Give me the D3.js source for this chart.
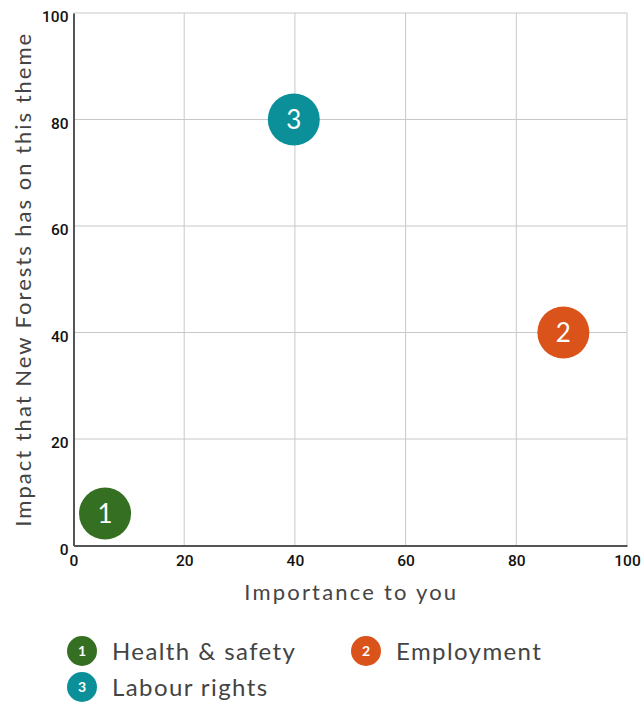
<!DOCTYPE html>
<html>
<head>
<meta charset="utf-8">
<script src="https://cdn.jsdelivr.net/npm/d3@7.8.5/dist/d3.min.js"></script>
<style>
  body { margin: 0; background: #fff; }
  svg { display: block; font-family: Lato, "Open Sans", sans-serif; }
</style>
</head>
<body>
<svg width="643" height="702"></svg>
<script>
// Themes plotted by importance (x) and impact (y)
const ids = [1, 2, 3];
const labels = ["Health & safety", "Employment", "Labour rights"];
const importance = [5.7, 88.5, 39.8];
const impact = [6, 40, 80];
const colors = ["#346f22", "#d9531a", "#0b9099"];
const ticks = [0, 20, 40, 60, 80, 100];

const svg = d3.select("svg");
const margin = { left: 73.5, right: 16, top: 13, bottom: 156.5 };
const width = 643, height = 702;

const x = d3.scaleLinear().domain([0, 100]).range([margin.left, width - margin.right]);
const y = d3.scaleLinear().domain([0, 100]).range([height - margin.bottom, margin.top]);

// Gridlines
const grid = svg.append("g");
grid.selectAll("line.v")
  .data(ticks.slice(1))
  .enter()
  .append("line")
  .attr("x1", (d) => x(d))
  .attr("x2", (d) => x(d))
  .attr("y1", y(0))
  .attr("y2", y(100))
  .attr("stroke", "#c8c8c8")
  .attr("stroke-width", 1);
grid.selectAll("line.h")
  .data(ticks.slice(1))
  .enter()
  .append("line")
  .attr("y1", (d) => y(d))
  .attr("y2", (d) => y(d))
  .attr("x1", x(0))
  .attr("x2", x(100))
  .attr("stroke", "#c8c8c8")
  .attr("stroke-width", 1);

// Axes
const xAxis = svg.append("g")
  .attr("transform", `translate(0,${y(0)})`)
  .call(d3.axisBottom(x).tickValues(ticks).tickSize(0).tickPadding(9));
const yAxis = svg.append("g")
  .attr("transform", `translate(${x(0)},0)`)
  .call(d3.axisLeft(y).tickValues(ticks).tickSize(0).tickPadding(5));

[xAxis, yAxis].forEach((g) => {
  g.select(".domain").attr("stroke", "#555").attr("stroke-width", 2);
  g.selectAll("text")
    .attr("font-size", "15.5px")
    .attr("font-weight", "500")
    .attr("fill", "#111")
    .style("font-family", "Roboto, sans-serif");
});
yAxis.selectAll(".tick text").attr("dy", "0.55em");

// Axis titles
svg.append("text")
  .attr("x", x(50) + 1)
  .attr("y", 600)
  .attr("text-anchor", "middle")
  .attr("font-size", "22px")
  .attr("letter-spacing", "2.2px")
  .attr("fill", "#444")
  .text("Importance to you");

svg.append("text")
  .attr("transform", `translate(31,${(y(0) + y(100)) / 2}) rotate(-90)`)
  .attr("text-anchor", "middle")
  .attr("font-size", "22px")
  .attr("letter-spacing", "2px")
  .attr("fill", "#444")
  .text("Impact that New Forests has on this theme");

// Bubbles
const pts = ids.map((id, i) => ({ id, x: importance[i], y: impact[i], color: colors[i] }));
const bubble = svg.append("g")
  .selectAll("g")
  .data(pts)
  .enter()
  .append("g")
  .attr("transform", (d) => `translate(${x(d.x)},${y(d.y)})`);
bubble.append("circle")
  .attr("r", 26)
  .attr("fill", (d) => d.color);
bubble.append("text")
  .attr("text-anchor", "middle")
  .attr("dy", "0.36em")
  .attr("font-size", "26px")
  .attr("fill", "#fff")
  .text((d) => d.id);

// Legend
const legendPos = [[82, 651], [366, 651], [82, 687]];
const legend = svg.append("g")
  .selectAll("g")
  .data(pts)
  .enter()
  .append("g")
  .attr("transform", (d, i) => `translate(${legendPos[i][0]},${legendPos[i][1]})`);
legend.append("circle")
  .attr("r", 15)
  .attr("fill", (d) => d.color);
legend.append("text")
  .attr("text-anchor", "middle")
  .attr("dy", "0.36em")
  .attr("font-size", "14px")
  .attr("font-weight", "bold")
  .attr("fill", "#fff")
  .text((d) => d.id);
legend.append("text")
  .attr("x", 30)
  .attr("dy", "0.36em")
  .attr("font-size", "24px")
  .attr("letter-spacing", "1.4px")
  .attr("fill", "#444")
  .text((d, i) => labels[i]);
</script>
</body>
</html>
